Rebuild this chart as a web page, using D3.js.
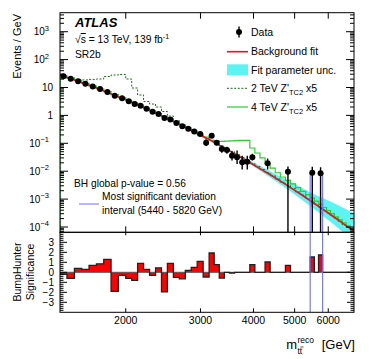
<!DOCTYPE html>
<html><head><meta charset="utf-8">
<script src="https://cdn.jsdelivr.net/npm/d3@7"></script>
<style>
body{margin:0;background:#fff}
svg{display:block}
text{font-family:"Liberation Sans",Arial,Helvetica,sans-serif;fill:#000}
</style></head>
<body><svg id="c" width="374" height="359"></svg>
<script>
// ---------------- data ----------------
const binEdges = [1400,1454,1514,1575,1639,1706,1775,1847,1922,2000,
  2066,2133,2203,2276,2351,2428,2507,2590,2675,2763,2853,2947,3044,3144,
  3232,3322,3415,3511,3609,3710,3814,3921,4030,4143,4259,4378,4501,4627,4756,4889,5026,5167,5311,5440,
  5565,5692,5820,5945,6073,6204,6337,6473,6612,6755,6900];
// events / GeV per bin (0 = empty bin, no marker)
const dataValues = [25.3,20.4,16.9,13.5,10.9,8.75,6.95,5.05,4.08,3.22,
  2.58,2.22,1.74,1.36,1.12,0.80,0.72,0.53,0.41,0.335,0.265,0.215,0.105,0.187,
  0.104,0.063,0.058,0.036,0.0315,0.0208,0.0219,0.0315,0,0,0.0192,0,0,0,0.0096,0,0,0,0,0.0088,
  0,0.0084,0,0,0,0,0,0,0,0];
const dataLow = [24.5,19.8,16.4,13.1,10.55,8.45,6.7,4.87,3.93,3.09,
  2.47,2.12,1.65,1.29,1.06,0.75,0.675,0.49,0.375,0.30,0.235,0.19,0.080,0.16,
  0.085,0.046,0.042,0.024,0.018,0.0115,0.0115,0.024,0,0,0.0115,0,0,0,0,0,0,0,0,0,
  0,0,0,0,0,0,0,0,0,0];
const dataHigh = [26.1,21.0,17.4,13.9,11.25,9.05,7.2,5.23,4.23,3.35,
  2.69,2.32,1.83,1.43,1.18,0.85,0.765,0.57,0.445,0.37,0.295,0.24,0.139,0.215,
  0.12,0.083,0.075,0.052,0.055,0.036,0.036,0.042,0,0,0.0285,0,0,0,0.0148,0,0,0,0,0.0145,
  0,0.0138,0,0,0,0,0,0,0,0];
// BumpHunter significance per bin
const significance = [-0.2,-0.6,0.4,0.3,0.7,0.85,1.3,-1.9,-0.3,-0.6,
  -0.8,0.9,0.3,-0.3,0.45,-1.95,0.9,-0.5,-0.65,0.2,0.5,1.1,-0.47,1.93,
  0.77,-0.57,0,-0.07,0,0,0,0.77,0,0,1.03,0,0,0,0.7,0,0,0,0,1.53,
  0,1.73,0,0,0,0,0,0,0,0];
// background fit and its uncertainty band
const fitMass   = [1400,1600,1800,2000,2250,2500,2750,3000,3300,3600,4000,4400,4800,5200,5600,6000,6400,6900];
const fitValues = [27.8,13.8,6.95,3.62,1.67,0.794,0.390,0.198,0.0914,0.0435,0.0171,0.00713,0.0031,0.0014,6.56e-4,3.18e-4,1.59e-4,6.95e-5];
const fitUp     = [28.4,14.1,7.09,3.69,1.72,0.818,0.406,0.208,0.0987,0.0487,0.0205,0.00963,0.0048,0.00252,1.44e-3,8.9e-4,5.57e-4,3.13e-4];
const fitDown   = [27.2,13.5,6.81,3.55,1.62,0.770,0.374,0.188,0.085,0.0392,0.0147,0.0057,0.0023,9.5e-4,4.07e-4,1.78e-4,7.95e-5,3.13e-5];
// signal + background templates (per bin)
const zp2Values = [25.4,22,19.4,18.7,19.5,20.2,24.8,28,29.2,20.2,
  9.6,5.4,3.15,2.56,2.0,1.38,0.95,0.656,0.472,0.353,0.265,0.198,0.155,0.128,
  0.10,0.08,0.064,0.05,0.04,0.031,0.024,0.019,0.0148,0.0115,0.0089,0.0069,0.0053,0.0040,0.0031,0.0024,0.0018,0.0014,0.00105,0.00082,
  0.00065,0.00051,0.0004,0.00032,0.00025,0.0002,0.00016,0.00012,0.0001,0.00008];
const zp4Values = [26.5,21.8,17.6,14.1,11.3,9.0,7.1,5.6,4.35,3.45,
  2.8,2.27,1.82,1.46,1.17,0.93,0.73,0.58,0.455,0.355,0.278,0.216,0.168,0.128,
  0.119,0.118,0.12,0.122,0.125,0.127,0.128,0.068,0.045,0.030,0.019,0.013,0.0088,0.0062,0.0047,0.0035,0.0026,0.0019,0.00145,0.0011,
  0.00084,0.00065,0.0005,0.00039,0.0003,0.00023,0.00018,0.00014,0.00011,0.00008];
const bhInterval = [5440, 5820];
const xTickValues = [2000,3000,4000,5000,6000];
const yMainTicks = [-4,-3,-2,-1,0,1,2,3];
const yRatioTicks = [-3,-2,-1,0,1,2,3];

// ---------------- layout ----------------
const L = 60, R = 354, T = 12.7, MB = 232.3, RB = 312.3;
const svg = d3.select("#c");
const x = d3.scaleLog().domain([1400, 6900]).range([L, R]);
const y = d3.scaleLog().domain([6.46e-5, 4800]).range([MB, T]);
const yr = d3.scaleLinear().domain([-4, 4]).range([RB, MB]);

const defs = svg.append("defs");
defs.append("clipPath").attr("id","cm").append("rect").attr("x",L).attr("y",T).attr("width",R-L).attr("height",MB-T);
defs.append("clipPath").attr("id","cr").append("rect").attr("x",L).attr("y",MB).attr("width",R-L).attr("height",RB-MB);

const gm = svg.append("g").attr("clip-path","url(#cm)");
const clampY = v => v > 0 ? y(v) : MB + 5;

// uncertainty band
const bandPts = fitMass.map((m,i)=>({m, u:fitUp[i], d:fitDown[i]}));
gm.append("path")
  .attr("d", d3.area().x(d=>x(d.m)).y0(d=>y(d.d)).y1(d=>y(d.u)).curve(d3.curveMonotoneX)(bandPts))
  .attr("fill","#5cf3f3").attr("stroke","none");

// step histogram helper (starting/ending at the bottom)
function stepPath(vals, yf, base) {
  let p = `M${x(binEdges[0])},${base}`;
  vals.forEach((v,i)=>{
    const yy = yf(v);
    p += `L${x(binEdges[i])},${yy}L${x(binEdges[i+1])},${yy}`;
  });
  p += `L${x(binEdges[binEdges.length-1])},${base}`;
  return p;
}
gm.append("path").attr("d", stepPath(zp2Values, clampY, MB+5))
  .attr("fill","none").attr("stroke","#1d6b1d").attr("stroke-width",1).attr("stroke-dasharray","2,1.6");
gm.append("path").attr("d", stepPath(zp4Values, clampY, MB+5))
  .attr("fill","none").attr("stroke","#2ecc2e").attr("stroke-width",1.2);

// fit line
gm.append("path")
  .attr("d", d3.line().x((m)=>x(m)).y((m,i)=>y(fitValues[i])).curve(d3.curveMonotoneX)(fitMass))
  .attr("fill","none").attr("stroke","#e8141c").attr("stroke-width",1.6);

// BH interval lines in main panel
const bhColor = "#6e6ef0";
const bhTop = [0.0088, 0.0084];
bhInterval.forEach((m,i)=>{
  gm.append("line").attr("x1",x(m)).attr("x2",x(m)).attr("y1",y(bhTop[i])).attr("y2",MB)
    .attr("stroke",bhColor).attr("stroke-width",1.1);
});

// data
const centers = dataValues.map((v,i)=>Math.sqrt(binEdges[i]*binEdges[i+1]));
dataValues.forEach((v,i)=>{
  if (v <= 0) return;
  const cx = x(centers[i]);
  gm.append("line").attr("x1",cx).attr("x2",cx)
    .attr("y1", dataLow[i] > 0 ? y(dataLow[i]) : MB+5).attr("y2", y(dataHigh[i]))
    .attr("stroke","#000").attr("stroke-width",1.4);
  gm.append("circle").attr("cx",cx).attr("cy",y(v)).attr("r",3).attr("fill","#000");
});

// ---------------- ratio panel ----------------
const gr = svg.append("g").attr("clip-path","url(#cr)");
gr.append("path").attr("d", stepPath(significance, v=>yr(v), yr(0)) + "Z")
  .attr("fill","#ff0000").attr("stroke","none");
gr.append("line").attr("x1",L).attr("x2",R).attr("y1",yr(0)).attr("y2",yr(0)).attr("stroke","#555").attr("stroke-width",1);
gr.append("path").attr("d", stepPath(significance, v=>yr(v), yr(0)))
  .attr("fill","none").attr("stroke","#222").attr("stroke-width",1.3);
bhInterval.forEach(m=>{
  gr.append("line").attr("x1",x(m)).attr("x2",x(m)).attr("y1",MB).attr("y2",RB)
    .attr("stroke",bhColor).attr("stroke-width",1.1);
});

// ---------------- frames & axes ----------------
svg.append("rect").attr("x",L).attr("y",T).attr("width",R-L).attr("height",MB-T).attr("fill","none").attr("stroke","#000").attr("stroke-width",1);
svg.append("rect").attr("x",L).attr("y",MB).attr("width",R-L).attr("height",RB-MB).attr("fill","none").attr("stroke","#000").attr("stroke-width",1);

const ax = svg.append("g").attr("stroke","#000").attr("stroke-width",1);
xTickValues.forEach(m=>{
  const xx = x(m);
  ax.append("line").attr("x1",xx).attr("x2",xx).attr("y1",T).attr("y2",T+6);
  ax.append("line").attr("x1",xx).attr("x2",xx).attr("y1",MB).attr("y2",MB-6);
  ax.append("line").attr("x1",xx).attr("x2",xx).attr("y1",RB).attr("y2",RB-4);
  ax.append("line").attr("x1",xx).attr("x2",xx).attr("y1",MB).attr("y2",MB+3);
});
svg.selectAll(".xtl").data(xTickValues).enter().append("text")
  .attr("x",d=>x(d)).attr("y",324).attr("text-anchor","middle").attr("font-size",10.5).text(d=>d);

yMainTicks.forEach(e=>{
  const yy = y(Math.pow(10,e));
  ax.append("line").attr("x1",L).attr("x2",L+8).attr("y1",yy).attr("y2",yy);
  ax.append("line").attr("x1",R).attr("x2",R-8).attr("y1",yy).attr("y2",yy);
});
for (let e=-5; e<=3; e++) for (let k=2;k<=9;k++){
  const v = k*Math.pow(10,e);
  if (v < 6.46e-5 || v > 4800) continue;
  const yy = y(v);
  ax.append("line").attr("x1",L).attr("x2",L+4).attr("y1",yy).attr("y2",yy);
  ax.append("line").attr("x1",R).attr("x2",R-4).attr("y1",yy).attr("y2",yy);
}
yMainTicks.forEach(e=>{
  const t = svg.append("text").attr("x",e>=2||e<0?49:53).attr("y",y(Math.pow(10,e))+3.6)
    .attr("text-anchor","end").attr("font-size",10);
  if (e===0) t.attr("x",53).text("1");
  else if (e===1) t.attr("x",53).text("10");
  else {
    t.append("tspan").text("10");
    t.append("tspan").attr("dy",-4.5).attr("font-size",7.5).text(e<0?"\u2212"+(-e):e);
  }
});
yRatioTicks.forEach(v=>{
  const yy = yr(v);
  ax.append("line").attr("x1",L).attr("x2",L+7).attr("y1",yy).attr("y2",yy);
  ax.append("line").attr("x1",R).attr("x2",R-7).attr("y1",yy).attr("y2",yy);
  svg.append("text").attr("x",54).attr("y",yy+3.6).attr("text-anchor","end").attr("font-size",10)
    .text(v<0?"\u2212"+(-v):v);
});
for (let v=-3.8; v<3.9; v+=0.2){
  const r = Math.round(v*10)/10;
  if (Math.abs(r-Math.round(r))<1e-6) continue;
  const yy = yr(r);
  ax.append("line").attr("x1",L).attr("x2",L+3.5).attr("y1",yy).attr("y2",yy);
  ax.append("line").attr("x1",R).attr("x2",R-3.5).attr("y1",yy).attr("y2",yy);
}

// ---------------- titles ----------------
svg.append("text").attr("transform","translate(21,14) rotate(-90)").attr("text-anchor","end")
  .attr("font-size",11).text("Events / GeV");
svg.append("text").attr("transform","translate(21,272) rotate(-90)").attr("text-anchor","middle")
  .attr("font-size",10.5).text("BumpHunter");
svg.append("text").attr("transform","translate(34,272) rotate(-90)").attr("text-anchor","middle")
  .attr("font-size",10.5).text("Significance");

svg.append("text").attr("x",355).attr("y",349).attr("text-anchor","end").attr("font-size",13).text("[GeV]");
svg.append("text").attr("x",297).attr("y",349).attr("text-anchor","end").attr("font-size",13).text("m");
svg.append("text").attr("x",297.5).attr("y",343).attr("font-size",8.5).text("reco");
svg.append("text").attr("x",297.5).attr("y",354).attr("font-size",8.5).text("tt");
svg.append("line").attr("x1",300.5).attr("x2",303.5).attr("y1",347).attr("y2",347).attr("stroke","#000").attr("stroke-width",0.7);

svg.append("text").attr("x",75).attr("y",27).attr("font-size",13).attr("font-weight","bold").attr("font-style","italic").text("ATLAS");
const en = svg.append("text").attr("x",75).attr("y",43).attr("font-size",10.3);
en.append("tspan").text("\u221A");
en.append("tspan").text("s").style("text-decoration","overline");
en.append("tspan").text(" = 13 TeV, 139 fb");
en.append("tspan").attr("dy",-4).attr("font-size",7).text("-1");
svg.append("text").attr("x",75).attr("y",58).attr("font-size",10.3).text("SR2b");

const lx1 = 227, lx2 = 248, tx = 251;
const legY = [32, 51.7, 69.8, 88.3, 107];
svg.append("line").attr("x1",239).attr("x2",239).attr("y1",26.5).attr("y2",37.5).attr("stroke","#000").attr("stroke-width",1.4);
svg.append("circle").attr("cx",239).attr("cy",legY[0]).attr("r",3).attr("fill","#000");
svg.append("line").attr("x1",lx1).attr("x2",lx2).attr("y1",legY[1]).attr("y2",legY[1]).attr("stroke","#e8141c").attr("stroke-width",1.6);
svg.append("rect").attr("x",lx1).attr("y",legY[2]-5.5).attr("width",lx2-lx1).attr("height",11).attr("fill","#5cf3f3");
svg.append("line").attr("x1",lx1).attr("x2",lx2).attr("y1",legY[3]).attr("y2",legY[3]).attr("stroke","#1d6b1d").attr("stroke-dasharray","2,1.6");
svg.append("line").attr("x1",lx1).attr("x2",lx2).attr("y1",legY[4]).attr("y2",legY[4]).attr("stroke","#2ecc2e").attr("stroke-width",1.2);
const legTxt = ["Data","Background fit","Fit parameter unc."];
legTxt.forEach((t,i)=>svg.append("text").attr("x",tx).attr("y",legY[i]+3.7).attr("font-size",10.5).text(t));
["2 TeV Z'","4 TeV Z'"].forEach((t,i)=>{
  const el = svg.append("text").attr("x",tx).attr("y",legY[3+i]+3.7).attr("font-size",10.5);
  el.append("tspan").text(t);
  el.append("tspan").attr("dy",3).attr("font-size",7.5).text("TC2");
  el.append("tspan").attr("dy",-3).text(" x5");
});

svg.append("text").attr("x",74).attr("y",187).attr("font-size",10.2).text("BH global p-value = 0.56");
svg.append("line").attr("x1",79).attr("x2",99).attr("y1",204).attr("y2",204).attr("stroke","#8f8ff5").attr("stroke-width",1.3);
svg.append("text").attr("x",102).attr("y",200).attr("font-size",10.2).text("Most significant deviation");
svg.append("text").attr("x",102).attr("y",213.5).attr("font-size",10.2).text("interval (5440 - 5820 GeV)");
</script></body></html>
